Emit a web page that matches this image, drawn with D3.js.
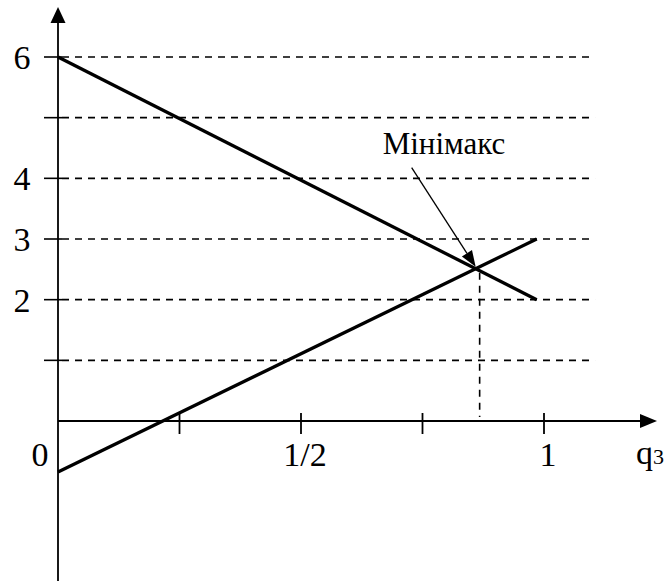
<!DOCTYPE html>
<html>
<head>
<meta charset="utf-8">
<script src="https://cdn.jsdelivr.net/npm/d3@7"></script>
<style>
  html, body { margin: 0; padding: 0; background: #fff; }
  svg { display: block; }
  text { font-family: "Liberation Serif", "Times New Roman", serif; fill: #000; }
</style>
</head>
<body>
<svg id="chart" width="668" height="581"></svg>
<script>
// Payoff lines of the two strategies against q3 and the grid values
const yGridValues = [1, 2, 3, 4, 5, 6];
const yLabelValues = [2, 3, 4, 6];
const xTickValues = [0.25, 0.5, 0.75, 1];
const xLabelValues = [0, 0.5, 1];
const xLabelTexts = ["0", "1/2", "1"];
const lineA = [[0, 6], [0.985, 2]];
const lineB = [[0, -0.84], [0.985, 3]];
const annotationText = "Мінімакс";
const axisName = "q";
const axisSub = "3";

const svg = d3.select("#chart");
const x = d3.scaleLinear().domain([0, 1]).range([58, 544]);
const y = d3.scaleLinear().domain([0, 6]).range([421, 57]);

const x0 = x(0), y0 = y(0);
const gridEnd = x(1.105);

// dashed horizontal grid with a short solid tick across the axis
const grid = svg.append("g");
grid.selectAll("line.dash").data(yGridValues).join("line")
  .attr("x1", x0 + 4).attr("x2", gridEnd)
  .attr("y1", d => y(d)).attr("y2", d => y(d))
  .attr("stroke", "#000").attr("stroke-width", 1.6)
  .attr("stroke-dasharray", "7,6");
grid.selectAll("line.tick").data(yGridValues).join("line")
  .attr("x1", x0 - 14).attr("x2", x0 + 4)
  .attr("y1", d => y(d)).attr("y2", d => y(d))
  .attr("stroke", "#000").attr("stroke-width", 1.6);

// axes
svg.append("line").attr("x1", x0).attr("x2", x0).attr("y1", 20).attr("y2", 581)
  .attr("stroke", "#000").attr("stroke-width", 1.8);
svg.append("path").attr("d", `M${x0},7 L${x0 - 7.5},23 L${x0 + 7.5},23 Z`).attr("fill", "#000");

svg.append("line").attr("x1", x0).attr("x2", 642).attr("y1", y0).attr("y2", y0)
  .attr("stroke", "#000").attr("stroke-width", 1.8);
svg.append("path").attr("d", `M657,${y0} L640,${y0 - 7} L640,${y0 + 7} Z`).attr("fill", "#000");

svg.append("g").selectAll("line").data(xTickValues).join("line")
  .attr("x1", d => x(d)).attr("x2", d => x(d))
  .attr("y1", y0 - 8).attr("y2", y0 + 13)
  .attr("stroke", "#000").attr("stroke-width", 1.8);

// labels
svg.append("g").selectAll("text").data(yLabelValues).join("text")
  .attr("x", 22).attr("y", d => y(d) + 12)
  .attr("text-anchor", "middle").attr("font-size", 34)
  .text(d => d);

svg.append("g").selectAll("text").data(xLabelValues).join("text")
  .attr("x", (d, i) => i === 0 ? x(d) - 18 : x(d) + 4)
  .attr("y", y0 + 45)
  .attr("text-anchor", "middle").attr("font-size", 34)
  .text((d, i) => xLabelTexts[i]);

const qLabel = svg.append("text").attr("x", 636).attr("y", y0 + 43).attr("font-size", 34);
qLabel.append("tspan").text(axisName);
qLabel.append("tspan").attr("font-size", 22).text(axisSub);

// payoff lines
const line = d3.line().x(d => x(d[0])).y(d => y(d[1]));
svg.append("g").selectAll("path").data([lineA, lineB]).join("path")
  .attr("d", line).attr("fill", "none")
  .attr("stroke", "#000").attr("stroke-width", 3.3).attr("stroke-linecap", "butt");

// minimax point: intersection of the two lines
const sA = (lineA[1][1] - lineA[0][1]) / (lineA[1][0] - lineA[0][0]);
const sB = (lineB[1][1] - lineB[0][1]) / (lineB[1][0] - lineB[0][0]);
const qStar = (lineB[0][1] - lineA[0][1]) / (sA - sB);
const vStar = lineA[0][1] + sA * qStar;
const px = x(qStar), py = y(vStar);

svg.append("line").attr("x1", px + 4).attr("x2", px + 4)
  .attr("y1", py + 4).attr("y2", y0 - 4)
  .attr("stroke", "#000").attr("stroke-width", 1.6).attr("stroke-dasharray", "7,6");

// annotation arrow
const ax0 = px - 64, ay0 = py - 101;
const ang = Math.atan2(py - 2 - ay0, px - ax0);
const tipX = px, tipY = py - 2;
const headL = 16, headW = 6;
const bx = tipX - headL * Math.cos(ang), by = tipY - headL * Math.sin(ang);
svg.append("line").attr("x1", ax0).attr("y1", ay0).attr("x2", bx).attr("y2", by)
  .attr("stroke", "#000").attr("stroke-width", 1.3);
svg.append("path")
  .attr("d", `M${tipX},${tipY} L${bx - headW * Math.sin(ang)},${by + headW * Math.cos(ang)} L${bx + headW * Math.sin(ang)},${by - headW * Math.cos(ang)} Z`)
  .attr("fill", "#000");

svg.append("text").attr("x", px - 93).attr("y", py - 115)
  .attr("font-size", 31).text(annotationText);
</script>
</body>
</html>
